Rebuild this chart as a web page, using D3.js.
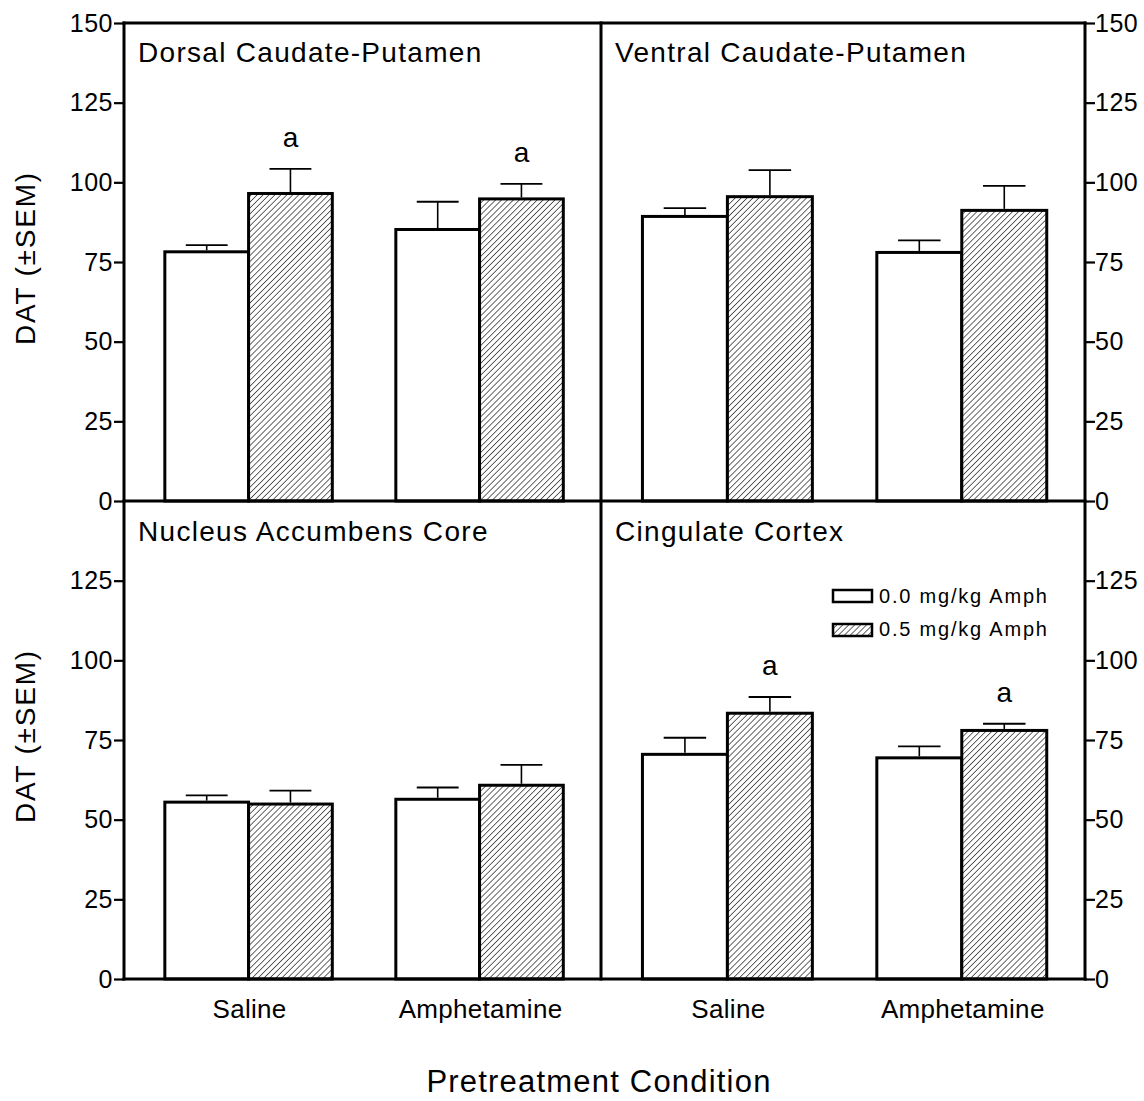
<!DOCTYPE html>
<html>
<head>
<meta charset="utf-8">
<script src="https://cdn.jsdelivr.net/npm/d3@7"></script>
<style>
  html, body { margin: 0; padding: 0; background: #fff; }
  svg { display: block; }
  text { font-family: "Liberation Sans", Arial, Helvetica, sans-serif; fill: #000; }
</style>
</head>
<body>
<svg id="chart" width="1144" height="1101"></svg>
<script>
// ---- Data ----
const regions = ["Dorsal Caudate-Putamen", "Ventral Caudate-Putamen", "Nucleus Accumbens Core", "Cingulate Cortex"];
const conditions = ["Saline", "Amphetamine"];
const doses = ["0.0 mg/kg Amph", "0.5 mg/kg Amph"];
// mean DAT per region, per pretreatment condition [Saline, Amphetamine]
const mean00 = [[78.2, 85.2], [89.3, 78.0], [55.5, 56.4], [70.5, 69.4]];
const mean05 = [[96.5, 94.8], [95.5, 91.2], [54.9, 60.8], [83.4, 78.0]];
const sem00 = [[2.1, 8.7], [2.6, 3.8], [2.1, 3.7], [5.2, 3.6]];
const sem05 = [[7.7, 4.7], [8.3, 7.7], [4.2, 6.4], [5.1, 2.1]];
const sig05 = [[true, true], [false, false], [false, false], [true, true]];
const yTicks = [0, 25, 50, 75, 100, 125, 150];
const yLabel = "DAT (\u00B1SEM)";
const xTitle = "Pretreatment Condition";

// ---- Layout ----
const svg = d3.select("#chart");
const xL = 124, xM = 601, xR = 1085;
const yT = 23, yMid = 501, yB = 979;
const panels = [
  { x0: xL, x1: xM, y0: yT, y1: yMid, side: "left", row: 0 },
  { x0: xM, x1: xR, y0: yT, y1: yMid, side: "right", row: 0 },
  { x0: xL, x1: xM, y0: yMid, y1: yB, side: "left", row: 1 },
  { x0: xM, x1: xR, y0: yMid, y1: yB, side: "right", row: 1 }
];

// hatch pattern
const defs = svg.append("defs");
const pat = defs.append("pattern")
  .attr("id", "hatch")
  .attr("patternUnits", "userSpaceOnUse")
  .attr("width", 4.2).attr("height", 4.2)
  .attr("patternTransform", "rotate(45)");
pat.append("rect").attr("width", 4.2).attr("height", 4.2).attr("fill", "#fff");
pat.append("line").attr("x1", 0).attr("y1", 0).attr("x2", 0).attr("y2", 4.2)
  .attr("stroke", "#000").attr("stroke-width", 1.2);

const fills = ["#fff", "url(#hatch)"];

panels.forEach((p, i) => {
  const g = svg.append("g");
  const y = d3.scaleLinear().domain([0, 150]).range([p.y1, p.y0]);
  const x0 = d3.scaleBand().domain(conditions).range([p.x0, p.x1])
    .paddingInner(0.275).paddingOuter(0.17).align(0.52);
  const x1 = d3.scaleBand().domain(doses).range([0, x0.bandwidth()]);

  // axis
  const ticks = p.row === 1 ? yTicks.filter(t => t < 150) : yTicks;
  const axis = (p.side === "left" ? d3.axisLeft(y) : d3.axisRight(y))
    .tickValues(ticks).tickSize(10).tickPadding(p.side === "left" ? 1 : 0)
    .tickFormat(d3.format("d"));
  const ax = g.append("g")
    .attr("transform", `translate(${p.side === "left" ? p.x0 : p.x1},0)`)
    .call(axis);
  ax.select(".domain").remove();
  ax.selectAll(".tick line").attr("stroke", "#000").attr("stroke-width", 2.2);
  ax.selectAll(".tick text")
    .style("font-size", "25px")
    .style("letter-spacing", "0.5px")
    .attr("fill", "#000");

  // data rows for this panel
  const rows = [];
  conditions.forEach((c, ci) => {
    rows.push({ cond: c, dose: doses[0], mean: mean00[i][ci], sem: sem00[i][ci], sig: false, k: 0 });
    rows.push({ cond: c, dose: doses[1], mean: mean05[i][ci], sem: sem05[i][ci], sig: sig05[i][ci], k: 1 });
  });

  // bars
  g.selectAll("rect.bar").data(rows).enter().append("rect")
    .attr("class", "bar")
    .attr("x", d => x0(d.cond) + x1(d.dose))
    .attr("y", d => y(d.mean))
    .attr("width", x1.bandwidth())
    .attr("height", d => y(0) - y(d.mean))
    .attr("fill", d => fills[d.k])
    .attr("stroke", "#000")
    .attr("stroke-width", 3);

  // error bars (upper only)
  const cx = d => x0(d.cond) + x1(d.dose) + x1.bandwidth() / 2;
  const capW = x1.bandwidth() / 2;
  g.selectAll("line.err").data(rows).enter().append("line")
    .attr("x1", cx).attr("x2", cx)
    .attr("y1", d => y(d.mean) - 1.5).attr("y2", d => y(d.mean + d.sem))
    .attr("stroke", "#000").attr("stroke-width", 1.6);
  g.selectAll("line.cap").data(rows).enter().append("line")
    .attr("x1", d => cx(d) - capW / 2).attr("x2", d => cx(d) + capW / 2)
    .attr("y1", d => y(d.mean + d.sem)).attr("y2", d => y(d.mean + d.sem))
    .attr("stroke", "#000").attr("stroke-width", 1.8);

  // significance letters
  g.selectAll("text.sig").data(rows.filter(d => d.sig)).enter().append("text")
    .attr("x", cx)
    .attr("y", d => y(d.mean + d.sem) - 22)
    .attr("text-anchor", "middle")
    .style("font-size", "28px")
    .text("a");

  // panel title
  g.append("text")
    .attr("x", p.x0 + 14)
    .attr("y", p.y0 + (p.row === 0 ? 39 : 40))
    .style("font-size", "28px")
    .style("letter-spacing", "1.3px")
    .text(regions[i]);

  // y label (left side only)
  if (p.side === "left") {
    g.append("text")
      .attr("transform", `translate(35,${(p.y0 + p.y1) / 2 - 4}) rotate(-90)`)
      .attr("text-anchor", "middle")
      .style("font-size", "28px")
      .style("letter-spacing", "1.8px")
      .text(yLabel);
  }

  // x tick labels (bottom row)
  if (p.row === 1) {
    g.selectAll("text.xl").data(conditions).enter().append("text")
      .attr("x", c => x0(c) + x0.bandwidth() / 2 + 1)
      .attr("y", 1018)
      .attr("text-anchor", "middle")
      .style("font-size", "26px")
      .style("letter-spacing", "0.3px")
      .text(c => c);
  }

  // legend in the last panel
  if (i === 3) {
    const lg = g.append("g");
    doses.forEach((d, k) => {
      lg.append("rect")
        .attr("x", 833).attr("y", 590 + k * 34)
        .attr("width", 39).attr("height", 12)
        .attr("fill", fills[k]).attr("stroke", "#000").attr("stroke-width", 2.5);
      lg.append("text")
        .attr("x", 879).attr("y", 603 + k * 33)
        .style("font-size", "20px")
        .style("letter-spacing", "1.8px")
        .text(d);
    });
  }
});

// frame lines
const frame = svg.append("g").attr("stroke", "#000").attr("stroke-width", 3).attr("stroke-linecap", "square");
[[xL, yT, xR, yT], [xL, yMid, xR, yMid], [xL, yB, xR, yB],
 [xL, yT, xL, yB], [xM, yT, xM, yB], [xR, yT, xR, yB]].forEach(l => {
  frame.append("line").attr("x1", l[0]).attr("y1", l[1]).attr("x2", l[2]).attr("y2", l[3]);
});

// x-axis title
svg.append("text")
  .attr("x", 599).attr("y", 1092)
  .attr("text-anchor", "middle")
  .style("font-size", "31px")
  .style("letter-spacing", "1.2px")
  .text(xTitle);
</script>
</body>
</html>
